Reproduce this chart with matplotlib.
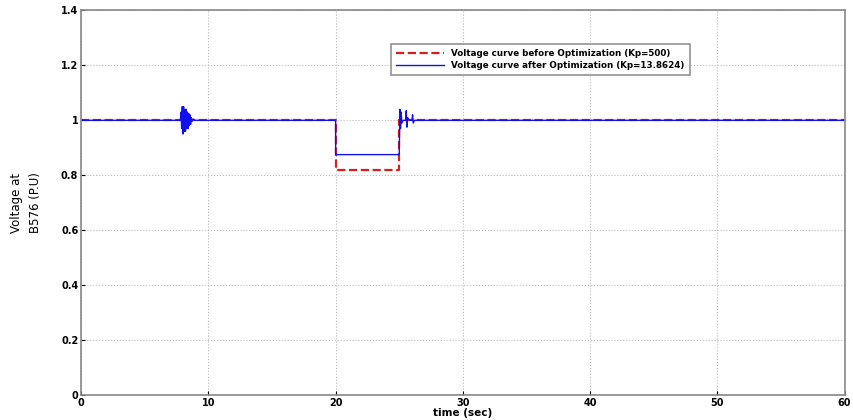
import matplotlib.pyplot as plt
import numpy as np

# red: before optimization (Kp=500)
t_before = [0, 20, 20, 25, 25, 60]
v_before = [1.0, 1.0, 0.82, 0.82, 1.0, 1.0]

# blue: after optimization (Kp=13.8624), oscillations
t_after = [0, 7.8, 7.85, 7.9, 7.95, 8.0, 8.05, 8.1, 8.15, 8.2, 8.25, 8.3, 8.35,
           8.4, 8.45, 8.5, 8.55, 8.6, 8.65, 8.7, 8.8, 8.9, 20, 20, 25, 25.05,
           25.1, 25.15, 25.2, 25.3, 25.5, 25.55, 25.6, 25.65, 25.8, 26.0,
           26.05, 26.1, 26.2, 60]
v_after = [1.0, 1.0, 1.03, 0.97, 1.05, 0.95, 1.05, 0.96, 1.04, 0.96, 1.04, 0.97,
           1.03, 0.97, 1.025, 0.98, 1.02, 0.985, 1.01, 0.995, 1.005, 1.0, 1.0,
           0.875, 0.875, 1.04, 0.97, 1.03, 0.99, 1.0, 1.0, 1.035, 0.975, 1.01,
           1.0, 1.0, 1.02, 0.99, 1.0, 1.0]

xticks = [0, 10, 20, 30, 40, 50, 60]
yticks = [0, 0.2, 0.4, 0.6, 0.8, 1.0, 1.2, 1.4]
ytick_labels = ['0', '0.2', '0.4', '0.6', '0.8', '1', '1.2', '1.4']

fig = plt.figure(figsize=(8.54, 4.2), dpi=100)
ax = fig.add_axes([0.095, 0.06, 0.894, 0.915])

ax.plot(t_before, v_before, color='#d62020', linestyle='--', linewidth=1.6,
        label='Voltage curve before Optimization (Kp=500)')
ax.plot(t_after, v_after, color='#1010ee', linewidth=1.0,
        label='Voltage curve after Optimization (Kp=13.8624)')

ax.set_xlim(0, 60)
ax.set_ylim(0, 1.4)
ax.set_xticks(xticks)
ax.set_yticks(yticks)
ax.set_yticklabels(ytick_labels)
ax.tick_params(labelsize=7, direction='in', length=3, pad=2)
for lab in ax.get_xticklabels() + ax.get_yticklabels():
    lab.set_fontweight('bold')
ax.grid(True, linestyle=':', color='#bbbbbb', linewidth=0.8)
for s in ax.spines.values():
    s.set_color('#888888')
    s.set_linewidth(1.2)

ax.set_xlabel('time (sec)', fontsize=7.5, fontweight='bold', labelpad=0)
ax.set_ylabel('Voltage at\nB576 (P.U)', fontsize=8.5, labelpad=14,
              linespacing=1.6)

leg = ax.legend(loc='upper left', bbox_to_anchor=(0.4, 0.925),
                prop={'weight': 'bold', 'size': 6.3}, fancybox=False,
                edgecolor='#777777', handlelength=5.5, borderpad=0.6,
                labelspacing=0.35)
leg.get_frame().set_linewidth(1.2)

fig.savefig('out.png', dpi=100)
